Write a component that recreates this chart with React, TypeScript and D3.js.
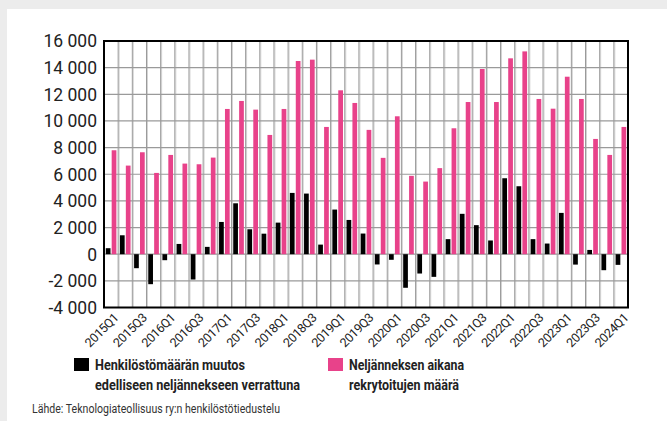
import { useEffect, useRef } from "react";
import * as d3 from "d3";

// quarters 2015Q1 .. 2024Q1
const quarters: string[] = [];
for (let y = 2015; y <= 2024; y++) {
  for (let q = 1; q <= 4; q++) {
    if (y === 2024 && q > 1) break;
    quarters.push(`${y}Q${q}`);
  }
}

// change in headcount vs previous quarter
const changeValues = [
  450, 1420, -1050, -2250,
  -450, 770, -1900, 550,
  2420, 3820, 1870, 1540,
  2370, 4600, 4550, 720,
  3350, 2570, 1550, -770,
  -420, -2520, -1450, -1700,
  1130, 3030, 2180, 1030,
  5700, 5100, 1130, 800,
  3100, -780, 320, -1200,
  -800,
];

// hires during quarter
const hireValues = [
  7800, 6650, 7650, 6100,
  7450, 6800, 6750, 7250,
  10900, 11500, 10850, 8950,
  10900, 14500, 14600, 9550,
  12300, 11350, 9330, 7230,
  10350, 5880, 5450, 6460,
  9450, 11420, 13900, 11420,
  14700, 15220, 11650, 10920,
  13320, 11650, 8650, 7450,
  9550,
];

const yTicks = [-4000, -2000, 0, 2000, 4000, 6000, 8000, 10000, 12000, 14000, 16000];

const seriesKeys = ["change", "hires"];
const seriesColors = ["#000000", "#e8428a"];
const legendLines = [
  ["Henkilöstömäärän muutos", "edelliseen neljännekseen verrattuna"],
  ["Neljänneksen aikana", "rekrytoitujen määrä"],
];
const legendWidths = [[150, 205], [115, 110]];
const sourceText = "Lähde: Teknologiateollisuus ry:n henkilöstötiedustelu";

const FONT = "Roboto, sans-serif";

function Chart() {
  const ref = useRef<SVGSVGElement | null>(null);

  useEffect(() => {
    const width = 667;
    const height = 421;
    const left = 104;
    const right = 628;
    const top = 41;
    const bottom = 307.5;

    const svg = d3.select(ref.current);
    svg.selectAll("*").remove();

    // background + card
    svg.append("rect").attr("width", width).attr("height", height).attr("fill", "#ececec");
    svg.append("rect").attr("x", 7).attr("y", 9).attr("width", width - 7).attr("height", height - 9).attr("fill", "#fff");

    const x = d3.scaleBand<string>().domain(quarters).range([left, right]).padding(0);
    const inner = d3.scaleBand<string>().domain(seriesKeys).range([0, x.bandwidth()])
      .paddingInner(0.2).paddingOuter(0.3);
    const y = d3.scaleLinear().domain([-4000, 16000]).range([bottom, top]);

    const g = svg.append("g");

    // vertical grid
    const vLines = quarters.slice(1);
    g.append("g").selectAll("line").data(vLines).join("line")
      .attr("x1", d => x(d)! + 1).attr("x2", d => x(d)! + 1)
      .attr("y1", top).attr("y2", bottom)
      .attr("stroke", "#d4d4d4").attr("stroke-width", 1);
    g.append("g").selectAll("line").data(vLines).join("line")
      .attr("x1", d => x(d)!).attr("x2", d => x(d)!)
      .attr("y1", top).attr("y2", bottom)
      .attr("stroke", "#9a9a9a").attr("stroke-width", 1);

    // horizontal grid
    g.append("g").selectAll("line").data(yTicks.slice(1, -1)).join("line")
      .attr("x1", left).attr("x2", right)
      .attr("y1", d => y(d)).attr("y2", d => y(d))
      .attr("stroke", "#9a9a9a").attr("stroke-width", 1.2);

    // bars
    const barData = quarters.flatMap((q, i) => [
      { q, key: "change", v: changeValues[i] },
      { q, key: "hires", v: hireValues[i] },
    ]);
    g.append("g").selectAll("rect").data(barData).join("rect")
      .attr("x", d => x(d.q)! + inner(d.key)!)
      .attr("width", inner.bandwidth())
      .attr("y", d => y(Math.max(0, d.v)))
      .attr("height", d => Math.abs(y(d.v) - y(0)))
      .attr("fill", d => seriesColors[seriesKeys.indexOf(d.key)]);

    // frame
    g.append("rect")
      .attr("x", left).attr("y", top)
      .attr("width", right - left).attr("height", bottom - top)
      .attr("fill", "none").attr("stroke", "#000").attr("stroke-width", 2);

    // y labels
    const fmt = (v: number) => d3.format(",")(v).replace(/,/g, " ").replace("−", "-");
    g.append("g").selectAll("text").data(yTicks).join("text")
      .attr("x", 97).attr("y", d => y(d))
      .attr("dy", "0.36em")
      .attr("text-anchor", "end")
      .attr("font-family", FONT)
      .attr("font-size", 17.5)
      .attr("fill", "#222")
      .text(d => fmt(d));

    // x labels
    g.append("g").selectAll("text").data(quarters.filter((_, i) => i % 2 === 0)).join("text")
      .attr("transform", d => `translate(${x(d)! + x.bandwidth() / 2 + 2},${bottom + 5}) rotate(-45)`)
      .attr("text-anchor", "end")
      .attr("dy", "0.7em")
      .attr("font-family", FONT)
      .attr("font-size", 12.5)
      .attr("letter-spacing", -0.4)
      .attr("fill", "#222")
      .text(d => d);

    // legend
    const legendX = [74, 328];
    legendLines.forEach((lines, i) => {
      const lg = svg.append("g").attr("transform", `translate(${legendX[i]},358)`);
      lg.append("rect").attr("width", 15).attr("height", 13).attr("fill", seriesColors[i]);
      lines.forEach((t, j) => {
        lg.append("text")
          .attr("x", 21).attr("y", 11.5 + j * 20.5)
          .attr("font-family", FONT)
          .attr("font-weight", "bold")
          .attr("font-size", 15)
          .attr("textLength", legendWidths[i][j])
          .attr("lengthAdjust", "spacingAndGlyphs")
          .attr("fill", "#222")
          .text(t);
      });
    });

    svg.append("text")
      .attr("x", 32).attr("y", 413)
      .attr("font-family", FONT)
      .attr("font-size", 12.5)
      .attr("textLength", 248)
      .attr("lengthAdjust", "spacingAndGlyphs")
      .attr("fill", "#333")
      .text(sourceText);
  }, []);

  return <svg ref={ref} width={667} height={421} style={{ position: "absolute", left: 0, top: 0 }} />;
}

export default function App() {
  return <Chart />;
}
